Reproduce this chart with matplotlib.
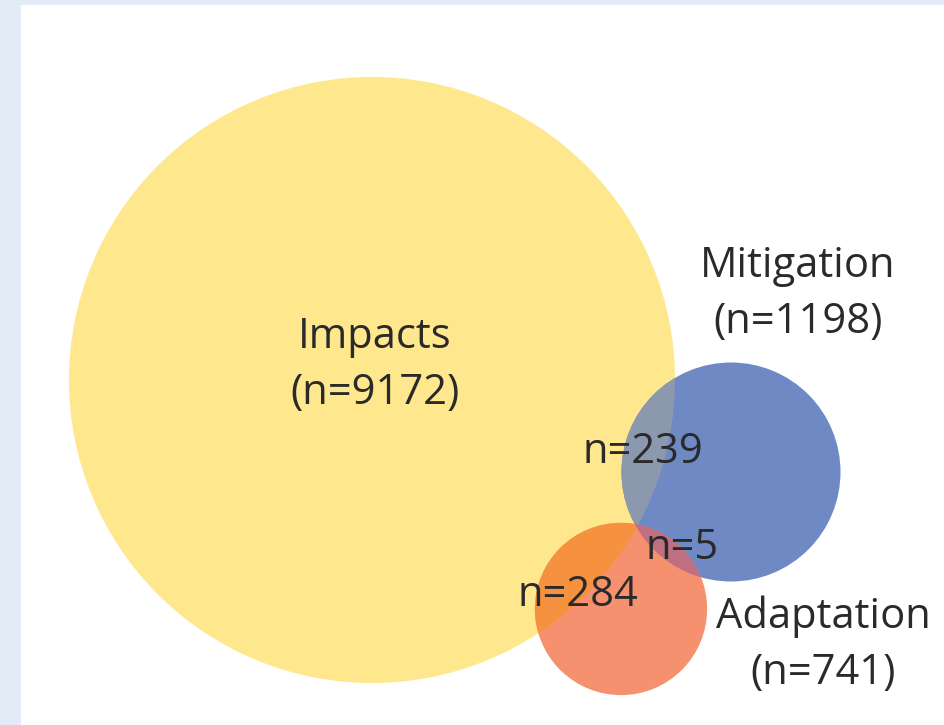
import numpy as np
import matplotlib.pyplot as plt
from matplotlib.patches import Circle, Rectangle

plt.rcParams['font.family'] = ['Open Sans', 'DejaVu Sans']

# set sizes (circle area proportional to n)
sets = ['Impacts', 'Mitigation', 'Adaptation']
counts = [9172, 1198, 741]
# pairwise overlaps
overlap_names = ['Impacts & Mitigation', 'Impacts & Adaptation', 'Mitigation & Adaptation']
overlap_counts = [239, 284, 5]

# layout (pixel space of the figure)
centers = [(372, 380), (731, 472), (621, 609)]
scale = 303 / np.sqrt(counts[0])
colors = ['#FEE78C', '#6E89C4', '#F6916F']
overlap_colors = ['#8C98AE', '#F6923F', '#BF6F82']

fig = plt.figure(figsize=(9.45, 7.25), dpi=100, facecolor='#E3EBF6')
ax = fig.add_axes([0, 0, 1, 1])
ax.set_xlim(0, 945)
ax.set_ylim(725, 0)
ax.axis('off')
ax.add_patch(Rectangle((21, 5), 945, 725, facecolor='white', edgecolor='none'))

circles = []
for c, n, col in zip(centers, counts, colors):
    r = scale * np.sqrt(n)
    p = Circle(c, r, facecolor=col, edgecolor='none')
    ax.add_patch(p)
    circles.append(p)

# overlap regions: draw second circle clipped by the first
pairs = [(0, 1), (0, 2), (1, 2)]
for (i, j), col in zip(pairs, overlap_colors):
    r = scale * np.sqrt(counts[j])
    p = Circle(centers[j], r, facecolor=col, edgecolor='none')
    ax.add_patch(p)
    p.set_clip_path(circles[i])

txt = dict(color='#2a2a2a', fontsize=30, ha='center', va='center', linespacing=1.45)
ax.text(375, 365, f'{sets[0]}\n(n={counts[0]})', **txt)
ax.text(798, 294, f'{sets[1]}\n(n={counts[1]})', **txt)
ax.text(823, 645, f'{sets[2]}\n(n={counts[2]})', **txt)

ax.text(643, 452, f'n={overlap_counts[0]}', **txt)
ax.text(578, 595, f'n={overlap_counts[1]}', **txt)
ax.text(682, 548, f'n={overlap_counts[2]}', **txt)

fig.savefig('out.png', dpi=100, facecolor=fig.get_facecolor())
